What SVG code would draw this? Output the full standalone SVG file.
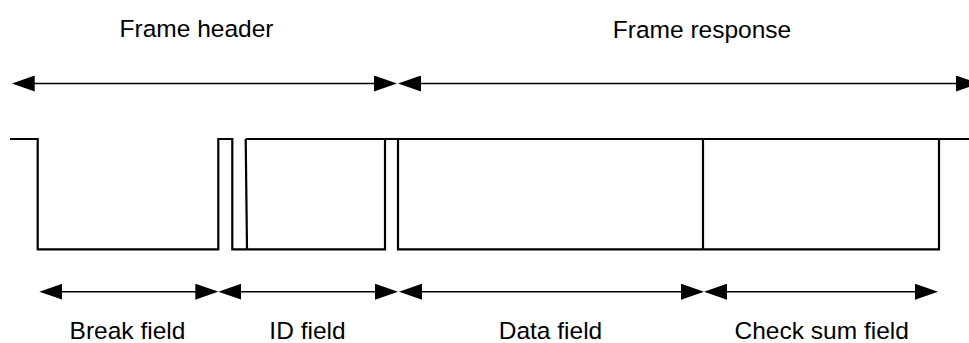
<svg xmlns="http://www.w3.org/2000/svg" width="969" height="343" viewBox="0 0 969 343">
<style>
.lbl{font-family:"Liberation Sans",Arial,sans-serif;font-size:24.5px;fill:#000;text-anchor:middle}
.wave{fill:none;stroke:#000;stroke-width:2.2;stroke-linejoin:miter}
.arr{stroke:#000;stroke-width:1.6;fill:none;marker-start:url(#ah);marker-end:url(#ah)}
</style>
<defs>
<marker id="ah" markerUnits="userSpaceOnUse" viewBox="0 0 23 16" markerWidth="23" markerHeight="16" refX="3" refY="8" orient="auto-start-reverse">
<path d="M0,0 L23,8 L0,16 Z" fill="#000"/>
</marker>
</defs>
<rect width="969" height="343" fill="#fff"/>
<g id="titles">
<text class="lbl" x="196.5" y="37">Frame header</text>
<text class="lbl" x="702" y="38">Frame response</text>
</g>
<g id="signal">
<path class="wave" d="M10,139 H37.7 V249.3 H218.3 V139 H232.3 V249.3 H385 V139 M245.7,139 L247,249.3 M245.7,139 H969 M398,139 V249.3 H939 V139 M703,139 V249.3"/>
</g>
<g id="connectors">
<line class="arr" x1="31.7" y1="83.5" x2="377" y2="83.5"/>
<line class="arr" x1="418" y1="83.5" x2="959" y2="83.5"/>
<line class="arr" x1="59.3" y1="291.7" x2="198.3" y2="291.7"/>
<line class="arr" x1="238.3" y1="291.7" x2="378" y2="291.7"/>
<line class="arr" x1="419" y1="291.7" x2="684" y2="291.7"/>
<line class="arr" x1="724" y1="291.7" x2="918" y2="291.7"/>
</g>
<g id="fields">
<text class="lbl" x="127.5" y="339">Break field</text>
<text class="lbl" x="307.5" y="339">ID field</text>
<text class="lbl" x="550.5" y="339">Data field</text>
<text class="lbl" x="821.7" y="339">Check sum field</text>
</g>
</svg>
